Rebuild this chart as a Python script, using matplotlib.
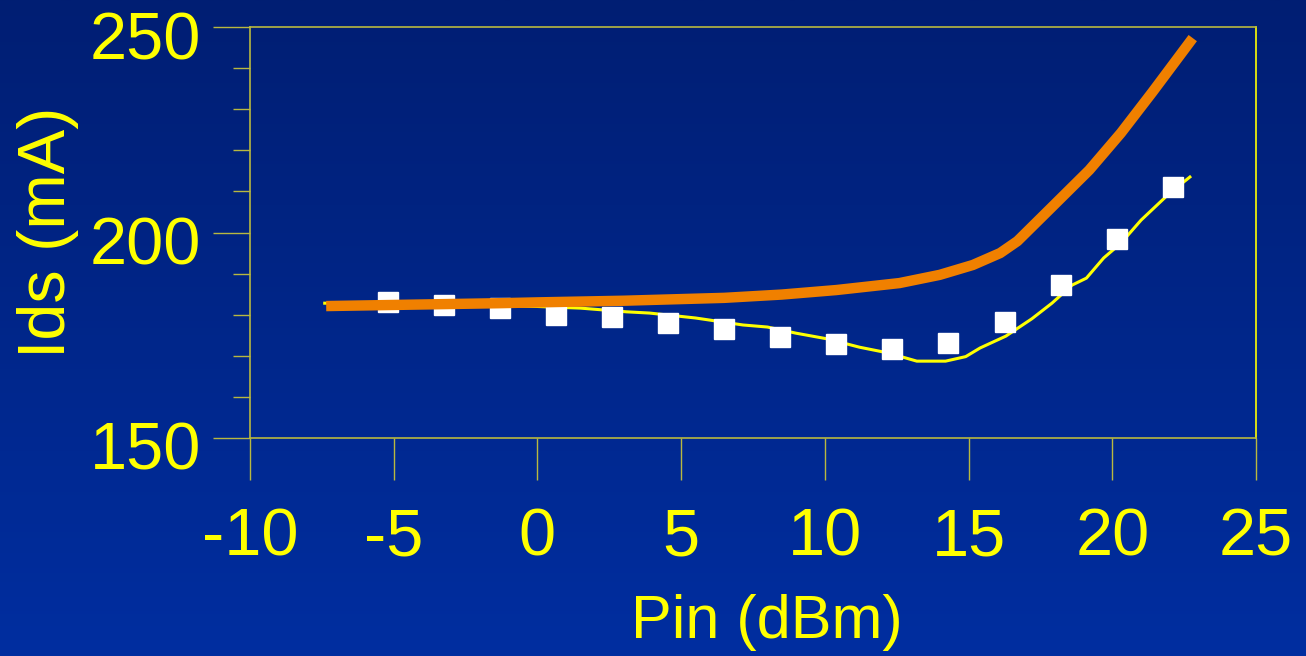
import numpy as np
import matplotlib
matplotlib.use("Agg")
import matplotlib.pyplot as plt
import matplotlib.transforms as mtransforms
from matplotlib.ticker import MultipleLocator

plt.rcParams['font.family'] = ['Liberation Sans', 'DejaVu Sans']
plt.rcParams['axes.unicode_minus'] = False

# simulated Ids (thick orange)
sim_pin = [-7.35, -1.3, 0.0, 3.0, 6.5, 8.5, 10.4, 12.6, 14.0, 15.15, 16.1,
           16.7, 17.8, 19.2, 20.3, 21.4, 22.8]
sim_ids = [182.1, 182.8, 183.0, 183.4, 184.1, 184.9, 186.0, 187.7, 189.7,
           192.1, 195.0, 197.9, 205.5, 215.2, 224.2, 234.2, 247.3]

# model fit (thin yellow)
fit_pin = [-7.4, -3.0, 0.0, 1.5, 3.1, 3.9, 5.5, 7.15, 8.0, 9.0, 10.1, 11.2,
           12.2, 13.2, 14.2, 14.9, 15.4, 16.3, 17.2, 17.9, 18.6, 19.1, 19.7,
           20.3, 21.0, 22.0, 22.7]
fit_ids = [182.8, 182.5, 182.0, 181.6, 180.7, 180.4, 179.2, 177.5, 177.0,
           175.5, 174.1, 172.1, 170.7, 168.7, 168.7, 169.8, 171.9, 174.8,
           179.0, 182.8, 187.2, 188.9, 193.8, 197.4, 203.0, 209.6, 213.5]

# measured points (white squares)
meas_pin = [-5.2, -3.25, -1.3, 0.65, 2.6, 4.55, 6.5, 8.45, 10.4, 12.35,
            14.3, 16.25, 18.2, 20.15, 22.1]
meas_ids = [183.1, 182.4, 181.6, 179.9, 179.4, 178.0, 176.5, 174.6, 172.9,
            171.7, 173.1, 178.2, 187.2, 198.4, 211.1]

yellow = '#ffff00'
axis_col = '#b8b840'

fig = plt.figure(figsize=(13.06, 6.56), dpi=100)

# gradient background
bg = fig.add_axes([0, 0, 1, 1], zorder=-1)
grad = np.linspace(0, 1, 256).reshape(-1, 1)
top = np.array([0, 30, 115]) / 255
bot = np.array([0, 46, 160]) / 255
img = top + (bot - top) * grad[:, :, None]
bg.imshow(img, aspect='auto', extent=[0, 1, 0, 1])
bg.axis('off')

ax = fig.add_axes([250 / 1306, 1 - 438 / 656, 1006 / 1306, 411 / 656])
ax.set_facecolor('none')

ax.plot(fit_pin, fit_ids, color=yellow, linewidth=2.2, zorder=2)
ax.plot(meas_pin, meas_ids, linestyle='none', marker='s', markersize=15,
        color='white', markeredgecolor='white', zorder=3)
ax.plot(sim_pin, sim_ids, color='#f08000', linewidth=7.5,
        solid_capstyle='butt', zorder=4)

ax.set_xlim(-10, 25)
ax.set_ylim(150, 250)
ax.xaxis.set_major_locator(MultipleLocator(5))
ax.yaxis.set_major_locator(MultipleLocator(50))
ax.yaxis.set_minor_locator(MultipleLocator(10))

for s in ax.spines.values():
    s.set_color(axis_col)
    s.set_linewidth(1.2)
ax.spines['right'].set_color(yellow)

ax.tick_params(axis='x', which='major', direction='out', length=30, width=1,
               color=axis_col, labelcolor=yellow, labelsize=48, pad=20)
ax.tick_params(axis='y', which='major', direction='out', length=27, width=1,
               color=axis_col, labelcolor=yellow, labelsize=48, pad=8)
ax.tick_params(axis='y', which='minor', direction='out', length=12, width=1,
               color=axis_col)

# y tick labels sit a little below their ticks in the original slide
shift = mtransforms.ScaledTranslation(0, -8 / 100, fig.dpi_scale_trans)
for lbl in ax.get_yticklabels():
    lbl.set_transform(lbl.get_transform() + shift)

ax.set_xlabel('Pin (dBm)', color=yellow, fontsize=44, labelpad=18)
ax.xaxis.label.set_x(0.514)
ax.set_ylabel('Ids (mA)', color=yellow, fontsize=48, labelpad=8)

fig.savefig('out.png', dpi=100)
